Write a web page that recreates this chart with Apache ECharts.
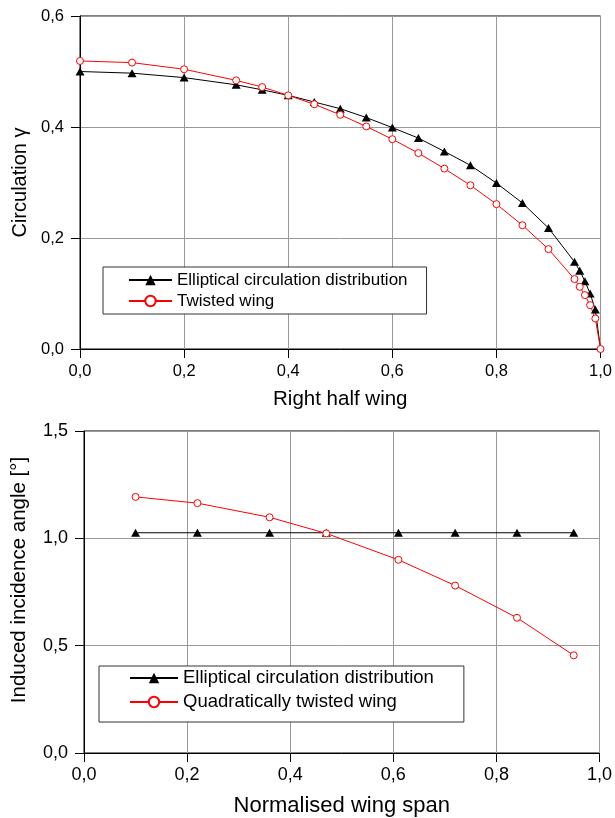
<!DOCTYPE html>
<html>
<head>
<meta charset="utf-8">
<script src="https://cdn.jsdelivr.net/npm/echarts@6/dist/echarts.min.js"></script>
<style>
  html, body { margin: 0; padding: 0; background: #fff; }
  #chart { width: 615px; height: 818px; }
</style>
</head>
<body>
<div id="chart"></div>
<script>
// top panel: circulation over the right half wing
const spanTop = [0, 0.1, 0.2, 0.3, 0.35, 0.4, 0.45, 0.5, 0.55, 0.6, 0.65, 0.7, 0.75, 0.8, 0.85, 0.9, 0.95, 0.96, 0.97, 0.98, 0.99, 1.0]
const ellipticGamma = [0.500, 0.497, 0.489, 0.476, 0.467, 0.457, 0.445, 0.433, 0.417, 0.399, 0.380, 0.356, 0.331, 0.299, 0.263, 0.218, 0.157, 0.141, 0.122, 0.100, 0.071, 0]
const twistedGamma = [0.519, 0.516, 0.504, 0.484, 0.472, 0.457, 0.441, 0.422, 0.401, 0.378, 0.353, 0.325, 0.295, 0.261, 0.223, 0.180, 0.126, 0.112, 0.097, 0.079, 0.055, 0]

// bottom panel: induced incidence angle
const spanBottom = [0.1, 0.22, 0.36, 0.47, 0.61, 0.72, 0.84, 0.95]
const ellipticAngle = [1.026, 1.026, 1.026, 1.026, 1.026, 1.026, 1.026, 1.026]
const quadAngle = [1.193, 1.164, 1.098, 1.023, 0.900, 0.780, 0.630, 0.455]

const nameElliptic = 'Elliptical circulation distribution'
const nameTwisted = 'Twisted wing'
const nameQuad = 'Quadratically twisted wing'

const font = 'Liberation Sans, Arial, sans-serif'
const comma = v => v.toFixed(1).replace('.', ',')

const pairs = (xs, ys) => xs.map((x, i) => [x, ys[i]])

// elliptical line ends at the tip without a marker
const ellipticTop = pairs(spanTop, ellipticGamma).map((p, i, arr) =>
  i === arr.length - 1 ? {value: p, symbol: 'none'} : p)

const axisCommon = (fontSize, margin) => ({
  type: 'value',
  axisLine: {show: true, onZero: false, lineStyle: {color: '#000', width: 1}},
  axisTick: {show: true, inside: false, length: 9, lineStyle: {color: '#000'}},
  axisLabel: {color: '#000', fontSize: fontSize, fontFamily: font, margin: margin, formatter: comma},
  splitLine: {show: true, lineStyle: {color: '#999', width: 1}},
  nameLocation: 'middle',
  nameTextStyle: {color: '#000', fontFamily: font}
})

const chart = echarts.init(document.getElementById('chart'), null, {renderer: 'canvas'})

chart.setOption({
  animation: false,
  backgroundColor: '#fff',
  grid: [
    {left: 80, top: 16, width: 522, height: 333, show: true, borderColor: '#000', borderWidth: 1},
    {left: 84, top: 431, width: 517, height: 322, show: true, borderColor: '#000', borderWidth: 1}
  ],
  xAxis: [
    Object.assign(axisCommon(16.5, 14), {
      gridIndex: 0, min: 0, max: 1, interval: 0.2,
      name: 'Right half wing', nameGap: 40,
      nameTextStyle: {color: '#000', fontFamily: font, fontSize: 20.5}
    }),
    Object.assign(axisCommon(18, 13), {
      gridIndex: 1, min: 0, max: 1, interval: 0.2,
      name: 'Normalised wing span', nameGap: 42,
      nameTextStyle: {color: '#000', fontFamily: font, fontSize: 22}
    })
  ],
  yAxis: [
    Object.assign(axisCommon(16.5, 16), {
      gridIndex: 0, min: 0, max: 0.6, interval: 0.2,
      name: 'Circulation γ', nameGap: 50,
      nameTextStyle: {color: '#000', fontFamily: font, fontSize: 20}
    }),
    Object.assign(axisCommon(18, 16), {
      gridIndex: 1, min: 0, max: 1.5, interval: 0.5,
      name: 'Induced incidence angle [°]', nameGap: 54,
      nameTextStyle: {color: '#000', fontFamily: font, fontSize: 20.5, padding: [0, 0, 0, 24]}
    })
  ],
  legend: [
    {
      data: [nameElliptic, nameTwisted],
      orient: 'vertical', left: 103, top: 267,
      padding: [3, 19, 3, 25],
      itemWidth: 43, itemHeight: 13, itemGap: 1,
      borderColor: '#333', borderWidth: 1, backgroundColor: '#fff',
      textStyle: {color: '#000', fontFamily: font, fontSize: 17, lineHeight: 20}
    },
    {
      data: [nameElliptic, nameQuad],
      orient: 'vertical', left: 99, top: 666,
      padding: [1, 30, 9, 30],
      itemWidth: 48, itemHeight: 13, itemGap: 2,
      borderColor: '#333', borderWidth: 1, backgroundColor: '#fff',
      textStyle: {color: '#000', fontFamily: font, fontSize: 18.5, lineHeight: 22}
    }
  ],
  series: [
    {
      name: nameElliptic, type: 'line', xAxisIndex: 0, yAxisIndex: 0,
      data: ellipticTop,
      symbol: 'triangle', symbolSize: [9, 8],
      lineStyle: {color: '#000', width: 1},
      itemStyle: {color: '#000'}
    },
    {
      name: nameTwisted, type: 'line', xAxisIndex: 0, yAxisIndex: 0,
      data: pairs(spanTop, twistedGamma),
      symbol: 'circle', symbolSize: 7,
      lineStyle: {color: '#ff0000', width: 1},
      itemStyle: {color: '#fff', borderColor: '#ff0000', borderWidth: 1}
    },
    {
      name: nameElliptic, type: 'line', xAxisIndex: 1, yAxisIndex: 1,
      data: pairs(spanBottom, ellipticAngle),
      symbol: 'triangle', symbolSize: [9, 8],
      lineStyle: {color: '#000', width: 1},
      itemStyle: {color: '#000'}
    },
    {
      name: nameQuad, type: 'line', xAxisIndex: 1, yAxisIndex: 1,
      data: pairs(spanBottom, quadAngle),
      symbol: 'circle', symbolSize: 7,
      lineStyle: {color: '#ff0000', width: 1},
      itemStyle: {color: '#fff', borderColor: '#ff0000', borderWidth: 1}
    }
  ]
})
</script>
</body>
</html>
